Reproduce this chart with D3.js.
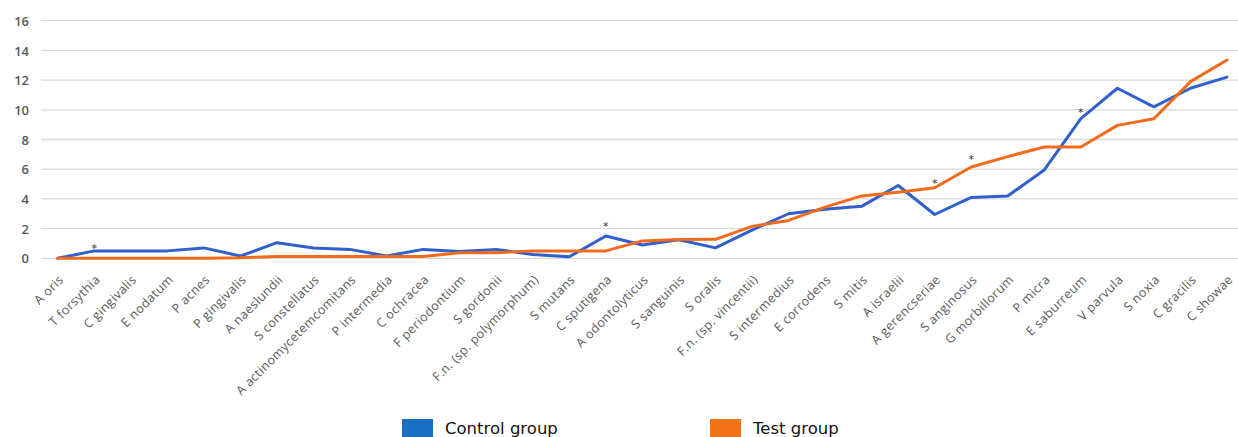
<!DOCTYPE html>
<html>
<head>
<meta charset="utf-8">
<script src="https://cdn.jsdelivr.net/npm/d3@7"></script>
<style>
  html, body { margin: 0; padding: 0; background: #fff; }
  svg { display: block; }
</style>
</head>
<body>
<svg id="chart" width="1238" height="437"></svg>
<script>
// Species along the x axis
const species = [
  "A oris", "T forsythia", "C gingivalis", "E nodatum", "P acnes", "P gingivalis",
  "A naeslundii", "S constellatus", "A actinomycetemcomitans", "P intermedia",
  "C ochracea", "F periodontium", "S gordonii", "F.n. (sp. polymorphum)", "S mutans",
  "C sputigena", "A odontolyticus", "S sanguinis", "S oralis", "F.n. (sp. vincentii)",
  "S intermedius", "E corrodens", "S mitis", "A israelii", "A gerencseriae",
  "S anginosus", "G morbillorum", "P micra", "E saburreum", "V parvula",
  "S noxia", "C gracilis", "C showae"
];

// Control group values
const controlValues = [
  0, 0.5, 0.5, 0.5, 0.7, 0.15, 1.05, 0.7, 0.6, 0.15,
  0.6, 0.45, 0.6, 0.25, 0.1, 1.5, 0.9, 1.25, 0.7, 1.9,
  3.0, 3.3, 3.5, 4.9, 2.95, 4.1, 4.2, 5.95, 9.4, 11.45,
  10.2, 11.45, 12.2
];

// Test group values
const testValues = [
  0, 0, 0, 0, 0, 0.03, 0.12, 0.12, 0.12, 0.12,
  0.12, 0.38, 0.38, 0.5, 0.5, 0.5, 1.17, 1.27, 1.28, 2.15,
  2.55, 3.45, 4.2, 4.45, 4.75, 6.15, 6.85, 7.5, 7.5, 8.95,
  9.4, 11.9, 13.35
];

// Significance markers: species and the height of the asterisk
const markedSpecies = ["T forsythia", "C sputigena", "A gerencseriae", "S anginosus", "E saburreum"];
const markerValues = [0.95, 2.45, 5.35, 6.95, 10.15];

const yTicks = [0, 2, 4, 6, 8, 10, 12, 14, 16];

const seriesNames = ["Control group", "Test group"];
const lineColors = ["#2f60cc", "#f26a1b"];
const swatchColors = ["#1a6ec4", "#f27318"];

const svg = d3.select("#chart");

const x = d3.scalePoint()
  .domain(species)
  .range([57.7, 1227])
  .padding(0);

const y = d3.scaleLinear()
  .domain([0, 16])
  .range([258.3, 20.7]);

// Horizontal gridlines
svg.append("g")
  .selectAll("line")
  .data(yTicks)
  .join("line")
  .attr("x1", 41)
  .attr("x2", 1238)
  .attr("y1", d => y(d))
  .attr("y2", d => y(d))
  .attr("stroke", "#d9d9d9")
  .attr("stroke-width", 1.3);

// Y axis labels
const yAxis = d3.axisLeft(y).tickValues(yTicks).tickSize(0).tickPadding(0);
svg.append("g")
  .attr("transform", "translate(29,0)")
  .call(yAxis)
  .call(g => g.select(".domain").remove())
  .call(g => g.selectAll("text")
    .attr("fill", "#595959")
    .attr("font-family", "'Open Sans', sans-serif")
    .attr("font-size", 13)
    .attr("font-weight", 600)
    .attr("dy", "0.36em"));

// X axis category labels, rotated
const xAxis = d3.axisBottom(x).tickSize(0).tickPadding(0);
svg.append("g")
  .attr("transform", "translate(0,258.3)")
  .call(xAxis)
  .call(g => g.select(".domain").remove())
  .call(g => g.selectAll("text")
    .attr("fill", "#5a5a5a")
    .attr("font-family", "'Open Sans', sans-serif")
    .attr("font-size", 12.5)
    .attr("letter-spacing", "0.4px")
    .attr("text-anchor", "end")
    .attr("transform", "translate(3,19) rotate(-45)")
    .attr("dy", "0.35em")
    .attr("y", 0));

// Lines
const line = d3.line()
  .x((d, i) => x(species[i]))
  .y(d => y(d));

[controlValues, testValues].forEach((vals, k) => {
  svg.append("path")
    .datum(vals)
    .attr("fill", "none")
    .attr("stroke", lineColors[k])
    .attr("stroke-width", 3)
    .attr("stroke-linejoin", "round")
    .attr("stroke-linecap", "round")
    .attr("d", line);
});

// Asterisks
svg.append("g")
  .selectAll("text")
  .data(markedSpecies)
  .join("text")
  .attr("x", d => x(d))
  .attr("y", (d, i) => y(markerValues[i]))
  .attr("dy", "0.75em")
  .attr("text-anchor", "middle")
  .attr("font-family", "'DejaVu Sans', sans-serif")
  .attr("font-size", 11)
  .attr("fill", "#333")
  .text("*");

// Legend
const legendX = [402, 710];
const legend = svg.append("g")
  .selectAll("g")
  .data(seriesNames)
  .join("g")
  .attr("transform", (d, i) => `translate(${legendX[i]},419)`);

legend.append("rect")
  .attr("width", 31)
  .attr("height", 18)
  .attr("fill", (d, i) => swatchColors[i]);

legend.append("text")
  .attr("x", 43)
  .attr("y", 15)
  .attr("font-family", "'DejaVu Sans', sans-serif")
  .attr("font-size", 16.5)
  .attr("fill", "#111")
  .text(d => d);
</script>
</body>
</html>
